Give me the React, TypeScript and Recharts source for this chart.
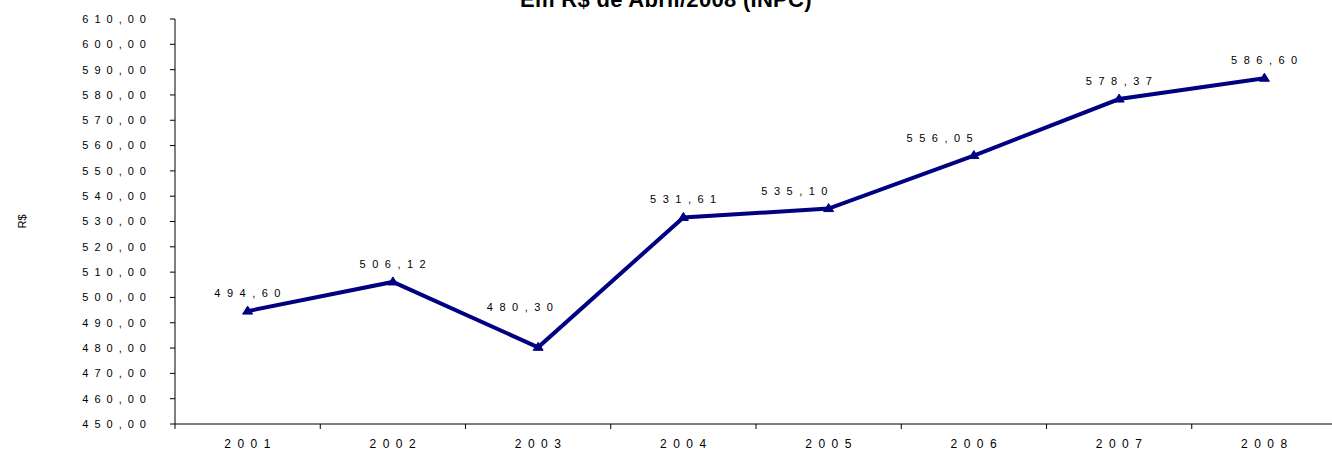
import { LineChart, Line, XAxis, YAxis, LabelList } from "recharts"

const years = ["2001", "2002", "2003", "2004", "2005", "2006", "2007", "2008"]
const values = [494.6, 506.12, 480.3, 531.61, 535.1, 556.05, 578.37, 586.6]
const yTicks = [450, 460, 470, 480, 490, 500, 510, 520, 530, 540, 550, 560, 570, 580, 590, 600, 610]
// whole numbers = tick marks between years, halves = year labels
const xTicks = [0, 0.5, 1, 1.5, 2, 2.5, 3, 3.5, 4, 4.5, 5, 5.5, 6, 6.5, 7, 7.5, 8]

const NAVY = "#000080"

const data = years.map((year, i) => ({ year, value: values[i], pos: i + 0.5 }))

const fmt = (v: number) => v.toFixed(2).replace(".", ",")

// little triangle marker like the excel one
const Triangle = (props: any) => {
  const { cx, cy } = props
  if (cx == null || cy == null) return null
  return <polygon points={`${cx},${cy - 5} ${cx - 5},${cy + 3} ${cx + 5},${cy + 3}`} fill={NAVY} stroke={NAVY} />
}

const YearTick = (props: any) => {
  const { x, y, payload } = props
  const v = payload.value
  if (Number.isInteger(v)) {
    return <line x1={x} y1={y} x2={x} y2={y + 5} stroke="#000" />
  }
  return (
    <text x={x + 3} y={y + 24} textAnchor="middle" fontSize={12} fill="#000" letterSpacing={6.5}>
      {years[Math.floor(v)]}
    </text>
  )
}

// excel moved some labels away from the line: lift the dip, push left where the line climbs steeply
const ValueLabel = (props: any) => {
  const { x, y, value, index } = props
  const prev = values[index - 1]
  const next = values[index + 1]
  let dx = 3
  let lift = 14
  if (prev != null && next != null && value < prev && value < next) {
    lift = 36
    dx = -15
  } else if (next != null && next - value > 15) {
    dx = -31
  }
  return (
    <text x={x + dx} y={y - lift} textAnchor="middle" fontSize={11} fill="#000" letterSpacing={6.5}>
      {fmt(value)}
    </text>
  )
}

export default function App() {
  return (
    <div
      style={{
        position: "absolute",
        left: 0,
        top: 0,
        width: 1332,
        height: 450,
        overflow: "hidden",
        background: "#fff",
        fontFamily: "'Liberation Sans', Arial, sans-serif",
      }}
    >
      <div
        style={{
          position: "absolute",
          top: -13,
          left: 0,
          width: 1332,
          textAlign: "center",
          fontWeight: "bold",
          fontSize: 22,
          letterSpacing: 0.3,
          color: "#000",
          whiteSpace: "nowrap",
        }}
      >
        Em R$ de Abril/2008 (INPC)
      </div>
      <LineChart width={1338} height={450} data={data} margin={{ top: 19, right: 1, bottom: 0, left: 0 }}>
        <XAxis
          type="number"
          dataKey="pos"
          domain={[0, 8]}
          ticks={xTicks}
          interval={0}
          allowDataOverflow
          tickLine={false}
          tickSize={0}
          tickMargin={0}
          tick={<YearTick />}
          height={26}
          stroke="#000"
        />
        <YAxis
          domain={[450, 610]}
          ticks={yTicks}
          interval={0}
          width={175}
          tickSize={5}
          tickMargin={18}
          tickFormatter={fmt}
          stroke="#000"
          tick={{ fontSize: 11, fill: "#000", letterSpacing: 6 }}
          label={({ viewBox }: any) => (
            <text
              x={viewBox.x + 22}
              y={viewBox.y + viewBox.height / 2}
              transform={`rotate(-90 ${viewBox.x + 22} ${viewBox.y + viewBox.height / 2})`}
              textAnchor="middle"
              dominantBaseline="central"
              fontSize={11}
              fill="#000"
            >
              R$
            </text>
          )}
        />
        <Line
          type="linear"
          dataKey="value"
          stroke={NAVY}
          strokeWidth={4}
          dot={<Triangle />}
          activeDot={false}
          isAnimationActive={false}
        >
          <LabelList dataKey="value" content={<ValueLabel />} />
        </Line>
      </LineChart>
    </div>
  )
}
